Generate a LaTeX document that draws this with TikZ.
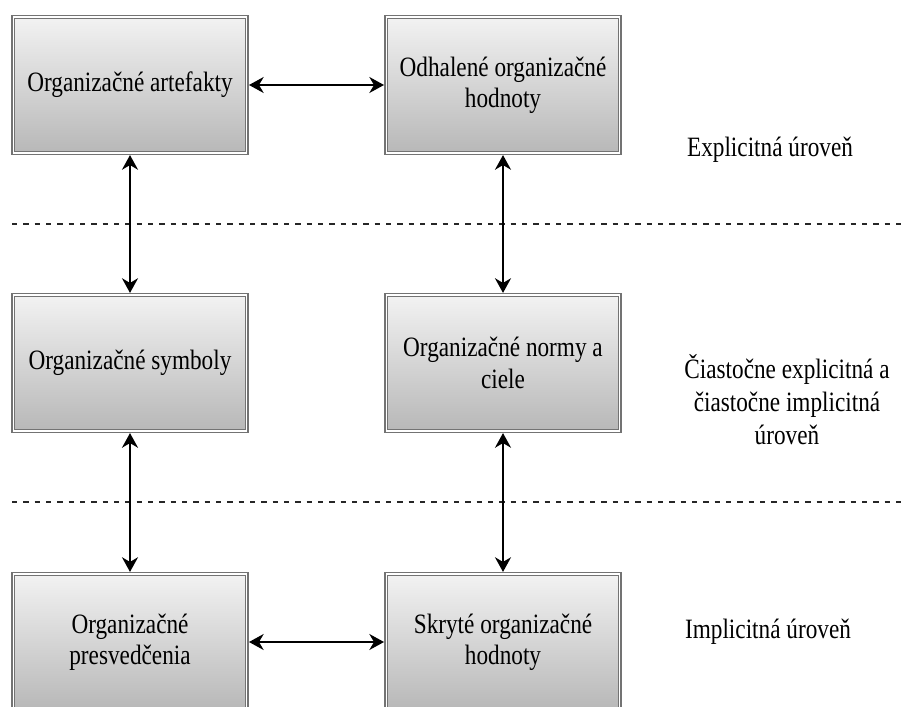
\documentclass[tikz,border=0pt]{standalone}
\usepackage{fontspec}
\setmainfont[FakeStretch=0.83]{Liberation Serif}
\usetikzlibrary{arrows.meta}

\begin{document}
\begin{tikzpicture}[>={Stealth[length=11pt,width=12pt,inset=3.5pt]},x=0.75pt,y=-0.75pt,
  box/.style={draw=black!55,line width=1.2pt,double=white,double distance=0.9pt,
    top color=black!5,bottom color=black!28,minimum width=175.3pt,minimum height=101.9pt,
    inner sep=0pt,outer sep=1.6pt,align=center,font={\fontsize{21}{23.5}\selectfont}},
  conn/.style={<->,line width=1.4pt},
  sep/.style={line width=1.1pt,black!85,dash pattern=on 4pt off 4.5pt},
  lvl/.style={align=center,font={\fontsize{21}{24.75}\selectfont}}]
  \path[use as bounding box,clip] (0,0) rectangle (902,706);
  % Level separators
  \draw[sep] (12,224)--(902,224);
  \draw[sep] (12,502)--(902,502);
  % Boxes
  \node[box] (artef) at (130,85) {Organizačné artefakty};
  \node[box] (odhal) at (503,85) {Odhalené organizačné\\hodnoty};
  \node[box] (symb) at (130,363) {Organizačné symboly};
  \node[box] (normy) at (503,363) {Organizačné normy a\\ciele};
  \node[box] (presv) at (130,642) {Organizačné\\presvedčenia};
  \node[box] (skryte) at (503,642) {Skryté organizačné\\hodnoty};
  % Links
  \draw[conn] (artef)--(odhal);
  \draw[conn] (presv)--(skryte);
  \draw[conn] (artef)--(symb);
  \draw[conn] (symb)--(presv);
  \draw[conn] (odhal)--(normy);
  \draw[conn] (normy)--(skryte);
  % Level names
  \node[lvl] (lexp) at (770,150) {Explicitná úroveň};
  \node[lvl] (lmix) at (787,400) {Čiastočne explicitná a\\čiastočne implicitná\\úroveň};
  \node[lvl] (limp) at (768,632) {Implicitná úroveň};
\end{tikzpicture}
\end{document}
